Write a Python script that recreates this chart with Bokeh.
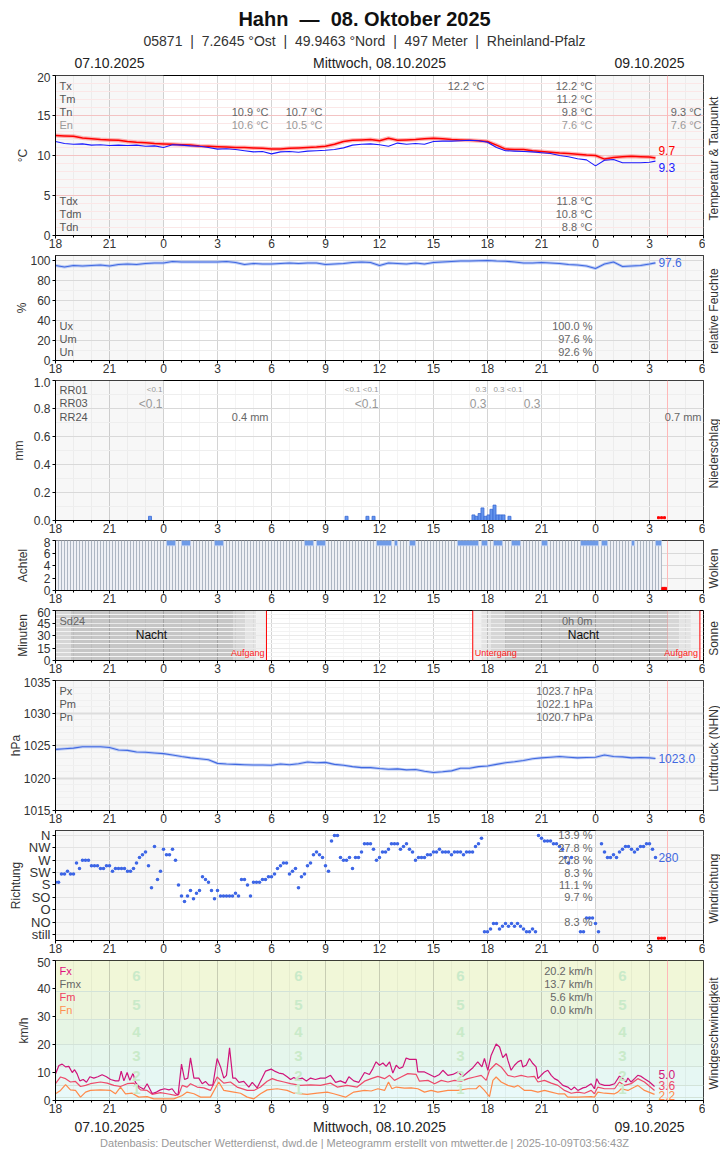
import math
from bokeh.plotting import figure
from bokeh.layouts import column, row
from bokeh.models import Range1d, FixedTicker, Span, Label, NumeralTickFormatter
from bokeh.embed import file_html
from bokeh.resources import INLINE

FONT = "Liberation Sans"

# ---------------- data (time in hours relative to 08.10.2025 00:00) ----------------
t_half = [-6 + 0.5 * i for i in range(67)] + [27.33]

temp = [12.5, 12.45, 12.4, 12.2, 12.1, 12.0, 11.95, 11.9, 11.75, 11.65,
        11.6, 11.5, 11.45, 11.4, 11.35, 11.3, 11.2, 11.15, 11.1, 11.05,
        11.0, 11.0, 10.95, 10.9, 10.8, 10.8, 10.9, 10.95, 11.0, 11.05,
        11.15, 11.4, 11.75, 11.9, 11.95, 12.0, 11.85, 12.15, 11.9, 11.95,
        12.0, 12.1, 12.15, 12.1, 12.0, 11.95, 11.9, 11.85, 11.75, 11.3,
        10.8, 10.75, 10.75, 10.6, 10.5, 10.4, 10.3, 10.25, 10.15, 10.05,
        10.0, 9.55, 9.75, 9.85, 9.9, 9.85, 9.8, 9.7]

dewp = [11.75, 11.5, 11.4, 11.45, 11.3, 11.35, 11.25, 11.3, 11.25, 11.3,
        11.15, 11.2, 11.0, 11.35, 11.3, 11.2, 11.15, 11.0, 10.8, 10.85,
        10.75, 10.6, 10.45, 10.5, 10.2, 10.45, 10.5, 10.4, 10.55, 10.6,
        10.65, 10.75, 10.95, 11.3, 11.4, 11.45, 11.35, 11.15, 11.55, 11.4,
        11.5, 11.4, 11.75, 11.8, 11.8, 11.85, 11.9, 11.85, 11.65, 11.0,
        10.6, 10.55, 10.5, 10.45, 10.35, 10.25, 10.0, 9.85, 9.6, 9.45,
        8.7, 9.4, 9.5, 9.1, 9.1, 9.1, 9.15, 9.3]

rhum = [95, 93.5, 95, 94.5, 95, 95.5, 94.5, 96, 96.5, 96,
        97, 97.5, 97.5, 99, 98.5, 98.5, 98.5, 98.5, 98.5, 99,
        98, 96, 97, 96.5, 96.5, 97, 97.5, 97, 97.5, 97.5,
        96, 96.5, 97, 98, 98.5, 98, 95, 97.5, 97, 96.5,
        97.5, 96.5, 98, 98.5, 99, 99.5, 99.5, 99.8, 100, 99.5,
        99.3, 98.5, 97.5, 97.5, 98, 97.5, 97, 96, 95.5, 94.5,
        92, 96.5, 98.5, 94, 94.5, 95, 96.5, 97.6]

pres = [1024.4, 1024.5, 1024.6, 1024.8, 1024.8, 1024.8, 1024.7, 1024.3, 1024.25, 1024.0,
        1023.95, 1023.85, 1023.75, 1023.55, 1023.3, 1023.1, 1022.95, 1022.8, 1022.25, 1022.15,
        1022.1, 1022.05, 1022.0, 1022.0, 1021.95, 1022.15, 1022.05, 1022.2, 1022.45, 1022.35,
        1022.4, 1022.1, 1021.95, 1021.75, 1021.6, 1021.6, 1021.45, 1021.35, 1021.4, 1021.25,
        1021.3, 1021.05, 1020.85, 1020.95, 1021.1, 1021.5, 1021.5, 1021.75, 1021.85, 1022.1,
        1022.35, 1022.5, 1022.7, 1022.95, 1023.1, 1023.2, 1023.3, 1023.2, 1023.1, 1023.15,
        1023.2, 1023.55, 1023.3, 1023.25, 1023.1, 1023.15, 1023.1, 1023.0]

# precipitation, 10-minute sums
rr_t = [-0.75, 10.17, 11.33, 11.67, 17.22, 17.39, 17.56, 17.72, 17.89, 18.06,
        18.22, 18.39, 18.56, 18.72, 18.89, 19.22]
rr_v = [0.03, 0.03, 0.03, 0.03, 0.04, 0.03, 0.05, 0.09, 0.03, 0.04,
        0.08, 0.11, 0.04, 0.04, 0.04, 0.03]

# cloud cover (octas), 10-minute values, and intervals with partial gaps at the top
cloud_t = [-6 + k / 6 + 1 / 12 for k in range(202)]
cloud_v = [8] * 202
cloud_gap_l = [0.17, 1.0, 2.83, 7.83, 8.5, 11.83, 12.83, 13.67, 16.33, 17.67, 18.33, 19.33, 21.0, 23.17, 24.33, 26.0, 27.33]
cloud_gap_r = [0.67, 1.5, 3.33, 8.33, 9.0, 12.67, 13.0, 14.0, 17.5, 18.0, 18.83, 19.83, 21.33, 24.17, 24.67, 26.17, 27.67]

# sun / twilight
shade_l = [-6, -5.17, 3.9, 4.56, 5.15, 17.18, 17.65, 18.17, 18.94, 28.02, 28.67, 29.3]
shade_r = [-5.17, 3.9, 4.56, 5.15, 5.72, 17.65, 18.17, 18.94, 28.02, 28.67, 29.3, 29.8]
shade_c = ["#d6d6d6", "#c6c6c6", "#d6d6d6", "#e4e4e4", "#f1f1f1", "#f1f1f1", "#e4e4e4", "#d6d6d6",
           "#c6c6c6", "#d6d6d6", "#e4e4e4", "#f1f1f1"]
sun_events = [5.72, 17.18, 29.8]

# wind direction, 10-minute values (degrees)
t_dir = [-6 + k / 6 for k in range(201)]
nan = float("nan")
wdir = [190, 190, 220, 220, 230, 220, 220, 260, 240, 270,
        270, 270, 250, 250, 250, 240, 240, 250, 250, 230,
        240, 240, 240, 240, 230, 230, 240, 260, 280, 290,
        300, 250, 170, 320, 200, 230, 310, 290, 290, 310,
        270, 180, 140, 120, 140, 160, 130, 150, 160, 210,
        200, 190, 160, 130, 160, 140, 140, 140, 140, 140,
        150, 140, 200, 200, 180, 140, 190, 190, 190, 200,
        200, 210, 210, 220, 240, 250, 260, 260, 220, 230,
        240, 170, 210, 220, 250, 260, 290, 300, 290, 280,
        250, 230, 340, 360, 360, 280, 270, 270, 280, 240,
        280, 280, 300, 330,
        330, 330, 310, 270, 280, 300, 300, 310, 330, 330,
        330, 310, 320, 330, 310, 300, 270, 280, 280, 280,
        290, 290, 300, 300, 310, 300, 300, 300, 290, 300,
        300, 300, 290, 300, 300, 300, 320, 330, 350,
        10, 10, 20, 40, 40, 20, 30, 40, 30, 40,
        30, 40, 30, 20, 10, 10, 20, 10,
        360, 350, 340, 340, 340, 330, 330, 320, 310, 280, 260, 280,
        nan, nan,
        10, 10, 60, 60, 60, 40, 10,
        330, 300, 280, 280, 290, 280, 300, 310, 320, 320, 310, 300, 310, 320, 320, 330, 330, 310, 280]
dir_names = ["still", "NO", "O", "SO", "S", "SW", "W", "NW", "N"]
dir_share = {8: "13.9 %", 7: "27.8 %", 6: "20.8 %", 5: "8.3 %", 4: "11.1 %", 3: "9.7 %", 1: "8.3 %"}

# wind speed (km/h)
fx_t = [-6.0, -5.81, -5.63, -5.44, -5.26, -5.07, -4.94, -4.8, -4.65, -4.46,
        -4.28, -4.09, -3.87, -3.65, -3.41, -3.17, -2.94, -2.67, -2.48, -2.35,
        -2.2, -2.02, -1.87, -1.69, -1.56, -1.37, -1.09, -0.91, -0.63, -0.39,
        -0.17, 0.06, 0.3, 0.48, 0.67, 0.81, 1.0, 1.17, 1.35, 1.5,
        1.69, 1.96, 2.15, 2.33, 2.52, 2.74, 2.98, 3.17, 3.35, 3.5,
        3.67, 3.85, 4.0, 4.19, 4.46, 4.74, 4.93, 5.2, 5.48, 5.67,
        5.98, 6.17, 6.41, 6.65, 6.87, 7.06, 7.24, 7.43, 7.7, 7.94,
        8.17, 8.44, 8.72, 9.0, 9.28, 9.56, 9.83, 10.11, 10.3, 10.57,
        10.85, 11.17,
        11.44, 11.63, 11.81, 12.0, 12.19, 12.37, 12.56, 12.74, 12.93, 13.11,
        13.3, 13.48, 13.67, 14.04, 14.13, 14.5, 14.78, 15.06, 15.33, 15.52,
        15.8, 16.07, 16.35, 16.63, 16.91, 17.19, 17.46, 17.69, 17.83, 18.02,
        18.2, 18.48, 18.67, 18.85, 19.04, 19.13, 19.31, 19.5, 19.69, 19.87,
        19.96, 20.15, 20.33, 20.52, 20.7, 20.8, 20.98, 21.17, 21.35, 21.54,
        21.72, 21.91, 22.19, 22.46, 22.65, 22.83, 23.02, 23.3, 23.48, 23.76,
        23.94, 24.07, 24.22, 24.5, 24.78, 25.06, 25.33, 25.52, 25.7, 25.8,
        25.98, 26.17, 26.35, 26.54, 26.72, 27.0, 27.28]
fx_v = [9.5, 12.5, 13.0, 12.0, 12.2, 10.0, 11.0, 9.5, 7.0, 7.5,
        6.5, 8.5, 8.0, 8.5, 9.2, 8.5, 7.5, 7.0, 7.0, 10.5,
        7.0, 10.0, 7.2, 9.7, 6.5, 5.0, 4.0, 6.0, 2.5, 3.0,
        3.8, 4.2, 3.8, 4.2, 2.5, 2.0, 13.0, 7.5, 8.0, 15.2,
        8.0, 8.0, 6.0, 6.8, 5.5, 5.5, 15.0, 12.0, 8.0, 9.0,
        18.8, 8.0, 8.0, 6.5, 6.8, 4.8, 6.5, 4.5, 8.0, 10.5,
        11.2, 10.5, 9.8, 9.5, 8.5, 7.5, 8.2, 7.5, 8.0, 7.0,
        8.0, 7.5, 8.0, 8.0, 9.0, 6.5, 7.0, 6.2, 8.5, 7.0,
        6.5, 10.0,
        9.3, 11.4, 13.8, 12.6, 13.4, 12.2, 13.8, 9.8, 12.6, 11.4,
        12.0, 15.2, 14.7, 14.7, 10.2, 10.2, 9.3, 8.4, 9.3, 10.8,
        9.0, 9.3, 10.2, 8.6, 10.2, 11.7, 13.8, 12.0, 15.0, 10.8,
        16.1, 20.2, 19.1, 15.3, 16.7, 14.4, 10.8, 12.6, 13.8, 14.4,
        12.0, 12.6, 15.0, 13.2, 12.0, 7.8, 9.0, 10.2, 10.8, 9.0,
        7.8, 7.2, 5.4, 4.8, 3.8, 4.8, 3.6, 4.5, 4.8, 6.0,
        4.2, 7.8, 6.0, 5.4, 5.4, 6.0, 8.7, 7.8, 6.6, 8.0,
        6.6, 7.8, 9.0, 8.6, 7.8, 6.6, 5.0]

fm_t = [-6.0, -5.72, -5.44, -5.17, -4.89, -4.61, -4.33, -4.06, -3.5, -3.13,
        -2.76, -2.39, -2.02, -1.65, -1.28, -0.91, -0.63, -0.17, 0.2, 0.67,
        0.85, 1.04, 1.31, 1.5, 1.87, 2.24, 2.61, 2.98, 3.35, 3.72,
        4.09, 4.65, 5.02, 5.39, 5.76, 6.04, 6.31, 6.69, 7.06, 7.61,
        8.17, 8.72, 9.28, 9.65, 10.2, 10.76, 11.17,
        11.54, 11.91, 12.28, 12.56, 12.83, 13.2, 13.57, 14.04, 14.22, 14.69,
        15.06, 15.43, 15.8, 16.17, 16.54, 16.91, 17.28, 17.65, 17.93, 18.11,
        18.48, 18.76, 19.13, 19.5, 19.87, 20.24, 20.61, 20.8, 21.17, 21.54,
        21.91, 22.28, 22.65, 23.02, 23.39, 23.76, 23.94, 24.13, 24.5, 25.06,
        25.33, 25.61, 25.98, 26.35, 26.72, 27.28]
fm_v = [6.0, 8.4, 7.8, 6.6, 6.8, 5.0, 5.4, 6.0, 6.6, 6.2,
        5.4, 5.0, 6.0, 6.2, 3.8, 3.6, 2.2, 2.8, 2.4, 1.8,
        2.2, 5.4, 4.8, 6.0, 4.8, 4.5, 3.6, 8.4, 6.2, 6.6,
        4.8, 3.6, 3.6, 4.8, 6.9, 7.8, 7.2, 6.6, 6.0, 5.4,
        5.6, 5.4, 6.2, 4.8, 5.4, 4.8, 6.9,
        7.8, 8.6, 7.8, 9.0, 7.2, 8.4, 9.6, 9.3, 6.9, 7.2,
        6.0, 7.2, 6.6, 7.2, 6.9, 7.8, 8.4, 9.0, 7.2, 10.8,
        13.2, 12.0, 9.0, 8.4, 9.0, 8.4, 8.6, 6.6, 7.2, 6.2,
        5.4, 3.6, 2.6, 3.0, 2.6, 3.6, 2.4, 4.8, 4.2, 4.2,
        6.6, 5.4, 6.0, 7.8, 6.6, 3.6]

fn_t = [-6.0, -5.72, -5.44, -5.17, -4.89, -4.61, -4.33, -4.06, -3.5, -2.94,
        -2.67, -2.39, -2.11, -1.74, -1.37, -0.91, -0.54, 0.02, 0.57, 1.04,
        1.31, 1.69, 2.06, 2.61, 3.07, 3.35, 3.91, 4.28, 4.65, 5.02,
        5.39, 5.76, 6.31, 6.87, 7.24, 7.98, 8.54, 9.09, 9.46, 10.11,
        10.57, 11.17,
        11.54, 11.91, 12.28, 12.5, 12.69, 12.93, 13.39, 13.76, 14.13, 14.5,
        14.87, 15.24, 15.8, 16.35, 16.91, 17.37, 17.56, 17.83, 18.11, 18.3,
        18.48, 18.76, 19.13, 19.5, 19.69, 20.06, 20.43, 20.8, 21.17, 21.54,
        21.91, 22.28, 22.46, 23.02, 23.76, 23.94, 24.13, 24.5, 25.06, 25.24,
        25.43, 25.8, 26.17, 26.35, 26.72, 27.28]
fn_v = [2.4, 3.6, 5.7, 3.8, 3.6, 1.2, 3.0, 3.6, 3.8, 3.6,
        2.4, 4.8, 2.4, 2.6, 1.2, 1.4, 0.6, 0.6, 0.6, 1.8,
        3.0, 2.4, 1.2, 1.2, 6.6, 3.6, 3.0, 2.6, 1.2, 0.6,
        2.4, 3.8, 4.2, 3.6, 2.6, 2.2, 2.6, 3.0, 2.4, 1.2,
        3.0, 3.6,
        3.4, 4.2, 3.6, 6.6, 4.2, 4.8, 4.4, 4.5, 4.2, 3.0,
        3.6, 3.0, 3.6, 3.6, 4.2, 4.2, 5.4, 3.6, 1.4, 7.2,
        8.4, 6.6, 5.4, 4.8, 5.4, 3.6, 3.6, 3.0, 3.6, 3.0,
        2.4, 2.4, 1.2, 1.2, 1.4, 1.2, 3.0, 2.6, 2.4, 3.0,
        4.2, 3.6, 4.8, 5.4, 3.6, 2.2]

bft_lo = [0, 1, 5.5, 12, 20, 29, 39]
bft_hi = [1, 5.5, 12, 20, 29, 39, 50]
bft_col = ["#e9fbfb", "#e9f9f9", "#e6f7f3", "#e5f6ec", "#e6f5e4", "#ecf5dd", "#f1f7d8"]
bft_num = ["1", "2", "3", "4", "5", "6"]
bft_mid = [4.0, 8.8, 16.0, 24.5, 34.0, 44.5]
bft_cols = [-1.5, 7.5, 16.5, 25.5]

missing_t = [27.5, 27.67, 27.83]
now_t = 28.0

XT = list(range(-6, 31, 3))
XM = list(range(-6, 31))
XLAB = {t: str(t % 24) for t in XT}


def lab(p, x, y, s, color="#555555", size=11, align="left", xoff=0, bold=False, base="middle", angle=0.0):
    p.add_layout(Label(x=x, y=y, text=s, x_offset=xoff, text_align=align, text_baseline=base,
                       text_color=color, text_font=FONT, text_font_size=f"{size}px",
                       text_font_style="bold" if bold else "normal", angle=angle))


def panel(fh, ymin, ymax, yticks, yminor, ylabel, ylab_sd, gmaj="#dddddd", gmin="#f0f0f0",
          night=True, overrides=None, fmt=None):
    p = figure(frame_width=648, frame_height=fh, x_range=Range1d(-6, 30), y_range=Range1d(ymin, ymax),
               output_backend="svg", toolbar_location=None,
               min_border_left=55, min_border_right=2, min_border_top=3, min_border_bottom=17)
    p.outline_line_color = "black"
    p.background_fill_color = "white"
    p.border_fill_color = "white"
    xa = p.xaxis[0]
    xa.ticker = FixedTicker(ticks=XT, minor_ticks=XM)
    xa.major_label_overrides = XLAB
    xa.major_label_standoff = 0
    xa.major_tick_out = 3
    xa.major_tick_in = 0
    xa.minor_tick_out = 2
    xa.minor_tick_in = 0
    xa.major_label_text_font = FONT
    xa.major_label_text_font_size = "12px"
    xa.major_label_text_color = "#333333"
    ya = p.yaxis[0]
    ya.ticker = FixedTicker(ticks=yticks)
    ya.major_tick_out = 3
    ya.major_tick_in = 0
    ya.minor_tick_line_color = None
    ya.major_label_standoff = 2
    ya.major_label_text_font = FONT
    ya.major_label_text_font_size = "12px"
    ya.major_label_text_color = "#333333"
    ya.axis_label = ylabel
    ya.axis_label_standoff = ylab_sd
    ya.axis_label_text_font = FONT
    ya.axis_label_text_font_size = "12px"
    ya.axis_label_text_font_style = "normal"
    ya.axis_label_text_color = "#333333"
    if overrides:
        ya.major_label_overrides = overrides
    if fmt:
        ya.formatter = fmt
    p.xgrid.ticker = FixedTicker(ticks=XT, minor_ticks=XM)
    p.xgrid.grid_line_color = "black"
    p.xgrid.grid_line_alpha = 0.13
    p.xgrid.minor_grid_line_color = "black"
    p.xgrid.minor_grid_line_alpha = 0.045
    p.ygrid.ticker = FixedTicker(ticks=yticks, minor_ticks=yminor)
    p.ygrid.grid_line_color = gmaj
    p.ygrid.minor_grid_line_color = gmin
    if night:
        p.quad(left=[-6, 24], right=[0, 30], bottom=ymin, top=ymax, fill_color="#f7f7f7",
               line_color=None, level="image")
    return p


def side(fh, title):
    h = fh + 20
    s = figure(frame_width=15, frame_height=h, x_range=Range1d(0, 15), y_range=Range1d(0, h),
               output_backend="svg", toolbar_location=None, x_axis_type=None, y_axis_type=None,
               min_border=0, min_border_left=0, min_border_right=0, min_border_top=0, min_border_bottom=0,
               outline_line_color=None)
    lab(s, 8.5, 17 + fh / 2, title, color="#333333", size=12, align="center", angle=math.pi / 2)
    return s


def ypx(ymin, ymax, fh, px):
    return ymax - px * (ymax - ymin) / fh


def now_line(p):
    p.add_layout(Span(location=now_t, dimension="height", line_color="#ffb8b8", line_width=1))


# ---------------- header ----------------
hdr = figure(frame_width=665, frame_height=72, x_range=Range1d(-6, 30.944), y_range=Range1d(72, 0),
             output_backend="svg", toolbar_location=None, x_axis_type=None, y_axis_type=None,
             min_border_left=55, min_border_right=0, min_border_top=0, min_border_bottom=0,
             outline_line_color=None)
lab(hdr, 11.17, 18, "Hahn \u00a0\u2014\u00a0 08. Oktober 2025", color="#111111", size=20, align="center", bold=True)
lab(hdr, 11.17, 40, "05871 \u00a0|\u00a0 7.2645 \u00b0Ost \u00a0|\u00a0 49.9463 \u00b0Nord \u00a0|\u00a0 497 Meter \u00a0|\u00a0 Rheinland-Pfalz",
    color="#333333", size=14, align="center")
lab(hdr, -3, 62, "07.10.2025", color="#222222", size=14, align="center")
lab(hdr, 12, 62, "Mittwoch, 08.10.2025", color="#222222", size=14, align="center")
lab(hdr, 27, 62, "09.10.2025", color="#222222", size=14, align="center")

# ---------------- 1: temperature ----------------
p1 = panel(160, 0, 20, [0, 5, 10, 15, 20], [v for v in range(1, 20) if v % 5], "\u00b0C", 4,
           gmaj="#f3c3c3", gmin="#fbe7e7")
p1.line(t_half, temp, line_color="#ff6060", line_width=4, line_alpha=0.45)
p1.line(t_half, temp, line_color="#ff0000", line_width=1.5)
p1.line(t_half, dewp, line_color="#1a1aff", line_width=1.1)
now_line(p1)
Y = lambda px: ypx(0, 20, 160, px)
for i, s in enumerate(["Tx", "Tm", "Tn", "En"]):
    lab(p1, -6, Y(10 + 13 * i), s, color="#999999" if s == "En" else "#555555", xoff=4)
for i, s in enumerate(["Tdx", "Tdm", "Tdn"]):
    lab(p1, -6, Y(125 + 13 * i), s, xoff=4)
lab(p1, 18, Y(10), "12.2 \u00b0C", color="#666666", align="right", xoff=-3)
lab(p1, 6, Y(36), "10.9 \u00b0C", color="#666666", align="right", xoff=-3)
lab(p1, 6, Y(49), "10.6 \u00b0C", color="#999999", align="right", xoff=-3)
lab(p1, 9, Y(36), "10.7 \u00b0C", color="#666666", align="right", xoff=-3)
lab(p1, 9, Y(49), "10.5 \u00b0C", color="#999999", align="right", xoff=-3)
for i, s in enumerate(["12.2 \u00b0C", "11.2 \u00b0C", "9.8 \u00b0C", "7.6 \u00b0C"]):
    lab(p1, 24, Y(10 + 13 * i), s, color="#999999" if i == 3 else "#666666", align="right", xoff=-3)
lab(p1, 30, Y(36), "9.3 \u00b0C", color="#666666", align="right", xoff=-2)
lab(p1, 30, Y(49), "7.6 \u00b0C", color="#999999", align="right", xoff=-2)
for i, s in enumerate(["11.8 \u00b0C", "10.8 \u00b0C", "8.8 \u00b0C"]):
    lab(p1, 24, Y(125 + 13 * i), s, color="#666666", align="right", xoff=-3)
lab(p1, 27.33, Y(75), "9.7", color="#ff0000", size=12, xoff=3)
lab(p1, 27.33, Y(92), "9.3", color="#1a1aff", size=12, xoff=3)

# ---------------- 2: humidity ----------------
p2 = panel(105, 0, 105, [0, 20, 40, 60, 80, 100], [10, 30, 50, 70, 90], "%", -2,
           gmaj="#d9d9d9", gmin="#eeeeee")
p2.line(t_half, rhum, line_color="#9fb6f2", line_width=3, line_alpha=0.7)
p2.line(t_half, rhum, line_color="#4169e1", line_width=1.1)
now_line(p2)
Y = lambda px: ypx(0, 105, 105, px)
for i, (s, v) in enumerate([("Ux", "100.0 %"), ("Um", "97.6 %"), ("Un", "92.6 %")]):
    lab(p2, -6, Y(70 + 13 * i), s, xoff=4)
    lab(p2, 24, Y(70 + 13 * i), v, color="#666666", align="right", xoff=-3)
lab(p2, 27.33, 97.6, "97.6", color="#4169e1", size=12, xoff=3)

# ---------------- 3: precipitation ----------------
p3 = panel(140, 0, 1.0, [0, 0.2, 0.4, 0.6, 0.8, 1.0], [0.1, 0.3, 0.5, 0.7, 0.9], "mm", 5,
           gmaj="#d9d9d9", gmin="#eeeeee", fmt=NumeralTickFormatter(format="0.0"))
p3.vbar(x=rr_t, width=1 / 6, top=rr_v, bottom=0, fill_color="#6495ed", line_color="#3b6bd6", line_width=0.8)
p3.scatter(missing_t, [0.02] * 3, marker="square", size=2, color="#ff0000")
now_line(p3)
Y = lambda px: ypx(0, 1.0, 140, px)
for i, s in enumerate(["RR01", "RR03", "RR24"]):
    lab(p3, -6, Y(9 + 13.5 * i), s, xoff=4)
for x, s in [(0, "<0.1"), (11, "<0.1"), (12, "<0.1"), (18, "0.3"), (19, "0.3"), (20, "<0.1")]:
    lab(p3, x, Y(9), s, color="#999999", size=8, align="right", xoff=-1)
for x, s in [(0, "<0.1"), (12, "<0.1"), (18, "0.3"), (21, "0.3")]:
    lab(p3, x, Y(23), s, color="#999999", size=12, align="right", xoff=-1)
lab(p3, 6, Y(36), "0.4 mm", color="#666666", align="right", xoff=-3)
lab(p3, 30, Y(36), "0.7 mm", color="#666666", align="right", xoff=-2)

# ---------------- 4: clouds ----------------
p4 = panel(50, 0, 8, [0, 2, 4, 6, 8], [], "Achtel", 11, gmaj="#d9d9d9")
p4.vbar(x=cloud_t, width=1 / 6, top=cloud_v, bottom=0, fill_color="#eef0f5", line_color="#a3adbb", line_width=0.8)
p4.quad(left=cloud_gap_l, right=cloud_gap_r, bottom=7.15, top=8, fill_color="#6e9be8", line_color="#c4d3f2",
        line_width=0.8)
p4.scatter([27.75, 27.88], [0.3, 0.3], marker="square", size=2.5, color="#ff0000")
now_line(p4)

# ---------------- 5: sun ----------------
p5 = panel(50, 0, 60, [0, 15, 30, 45, 60], [5, 10, 20, 25, 35, 40, 50, 55], "Minuten", 4,
           gmaj="#e9e9e9", gmin="#f3f3f3", night=False)
p5.quad(left=shade_l, right=shade_r, bottom=0, top=60, fill_color=shade_c, line_color=None, level="image")
for t in sun_events:
    p5.add_layout(Span(location=t, dimension="height", line_color="#ff0000", line_width=1))
p5.add_layout(Span(location=now_t, dimension="height", line_color="#e8a0a0", line_width=1, line_alpha=0.6))
Y = lambda px: ypx(0, 60, 50, px)
lab(p5, -6, Y(10), "Sd24", color="#666666", xoff=4)
lab(p5, 24, Y(10), "0h 0m", color="#666666", align="right", xoff=-3)
lab(p5, -0.67, Y(24), "Nacht", color="#111111", size=12, align="center")
lab(p5, 23.33, Y(24), "Nacht", color="#111111", size=12, align="center")
lab(p5, sun_events[0], Y(42), "Aufgang", color="#ff2020", size=9, align="right", xoff=-2)
lab(p5, sun_events[1], Y(42), "Untergang", color="#ff2020", size=9, align="left", xoff=2)
lab(p5, sun_events[2], Y(42), "Aufgang", color="#ff2020", size=9, align="right", xoff=-2)

# ---------------- 6: pressure ----------------
p6 = panel(130, 1015, 1035, [1015, 1020, 1025, 1030, 1035], [v for v in range(1016, 1035) if v % 5],
           "hPa", -2, gmaj="#dddddd", gmin="#f0f0f0")
p6.ygrid.grid_line_width = 2
p6.line(t_half, pres, line_color="#a9bdf2", line_width=3, line_alpha=0.7)
p6.line(t_half, pres, line_color="#4169e1", line_width=1.1)
now_line(p6)
Y = lambda px: ypx(1015, 1035, 130, px)
for i, (s, v) in enumerate([("Px", "1023.7 hPa"), ("Pm", "1022.1 hPa"), ("Pn", "1020.7 hPa")]):
    lab(p6, -6, Y(10 + 13 * i), s, xoff=4)
    lab(p6, 24, Y(10 + 13 * i), v, color="#666666", align="right", xoff=-3)
lab(p6, 27.33, 1023.0, "1023.0", color="#4169e1", size=12, xoff=3)

# ---------------- 7: wind direction ----------------
p7 = panel(110, -0.485, 8.4, list(range(9)), [], "Richtung", 3,
           gmaj="#e3e3e3", overrides={i: n for i, n in enumerate(dir_names)})
p7.yaxis[0].major_label_text_font_size = "13px"
p7.scatter(t_dir, [d / 45 for d in wdir], marker="circle", size=3.6, color="#3d66e6", line_color=None)
p7.scatter(missing_t, [-0.3] * 3, marker="square", size=2, color="#ff0000")
now_line(p7)
for k, s in dir_share.items():
    lab(p7, 24, k, s, color="#666666", align="right", xoff=-3)
lab(p7, 27.33, 280 / 45, "280", color="#4169e1", size=12, xoff=3)

# ---------------- 8: wind speed ----------------
p8 = panel(140, 0, 50, [0, 10, 20, 30, 40, 50], [], "km/h", 3, gmaj="#d3e3d9", night=False)
p8.ygrid.ticker = FixedTicker(ticks=[1, 5.5, 12, 20, 29, 39])
p8.quad(left=-6, right=30, bottom=bft_lo, top=bft_hi, fill_color=bft_col, line_color=None, level="image")
for c in bft_cols:
    for n, m in zip(bft_num, bft_mid):
        lab(p8, c, m, n, color="#c9eac9", size=15, align="center", bold=True)
p8.line(fn_t, fn_v, line_color="#ff8a4a", line_width=1.2)
p8.line(fm_t, fm_v, line_color="#ee4a6a", line_width=1.2)
p8.line(fx_t, fx_v, line_color="#d0147a", line_width=1.2)
now_line(p8)
Y = lambda px: ypx(0, 50, 140, px)
for i, (s, c, v) in enumerate([("Fx", "#e0107c", "20.2 km/h"), ("Fmx", "#666666", "13.7 km/h"),
                               ("Fm", "#f04060", "5.6 km/h"), ("Fn", "#ff9050", "0.0 km/h")]):
    lab(p8, -6, Y(10 + 13 * i), s, color=c, xoff=4)
    lab(p8, 24, Y(10 + 13 * i), v, color="#666666", align="right", xoff=-3)
lab(p8, 27.33, Y(114), "5.0", color="#d0147a", size=12, xoff=3)
lab(p8, 27.33, Y(124.5), "3.6", color="#ee4a6a", size=12, xoff=3)
lab(p8, 27.33, Y(134.5), "2.2", color="#ff8a4a", size=12, xoff=3)

# ---------------- footer ----------------
ftr = figure(frame_width=665, frame_height=33, x_range=Range1d(-6, 30.944), y_range=Range1d(33, 0),
             output_backend="svg", toolbar_location=None, x_axis_type=None, y_axis_type=None,
             min_border_left=55, min_border_right=0, min_border_top=0, min_border_bottom=0,
             outline_line_color=None)
lab(ftr, -3, 9, "07.10.2025", color="#222222", size=14, align="center")
lab(ftr, 12, 9, "Mittwoch, 08.10.2025", color="#222222", size=14, align="center")
lab(ftr, 27, 9, "09.10.2025", color="#222222", size=14, align="center")
lab(ftr, 11.17, 25,
    "Datenbasis: Deutscher Wetterdienst, dwd.de | Meteogramm erstellt von mtwetter.de | 2025-10-09T03:56:43Z",
    color="#999999", size=11, align="center")

rows = [
    row(p1, side(160, "Temperatur & Taupunkt"), spacing=0),
    row(p2, side(105, "relative Feuchte"), spacing=0),
    row(p3, side(140, "Niederschlag"), spacing=0),
    row(p4, side(50, "Wolken"), spacing=0),
    row(p5, side(50, "Sonne"), spacing=0),
    row(p6, side(130, "Luftdruck (NHN)"), spacing=0),
    row(p7, side(110, "Windrichtung"), spacing=0),
    row(p8, side(140, "Windgeschwindigkeit"), spacing=0),
]
layout = column(hdr, *rows, ftr, spacing=0)
open("out.html", "w").write(file_html(layout, INLINE))
